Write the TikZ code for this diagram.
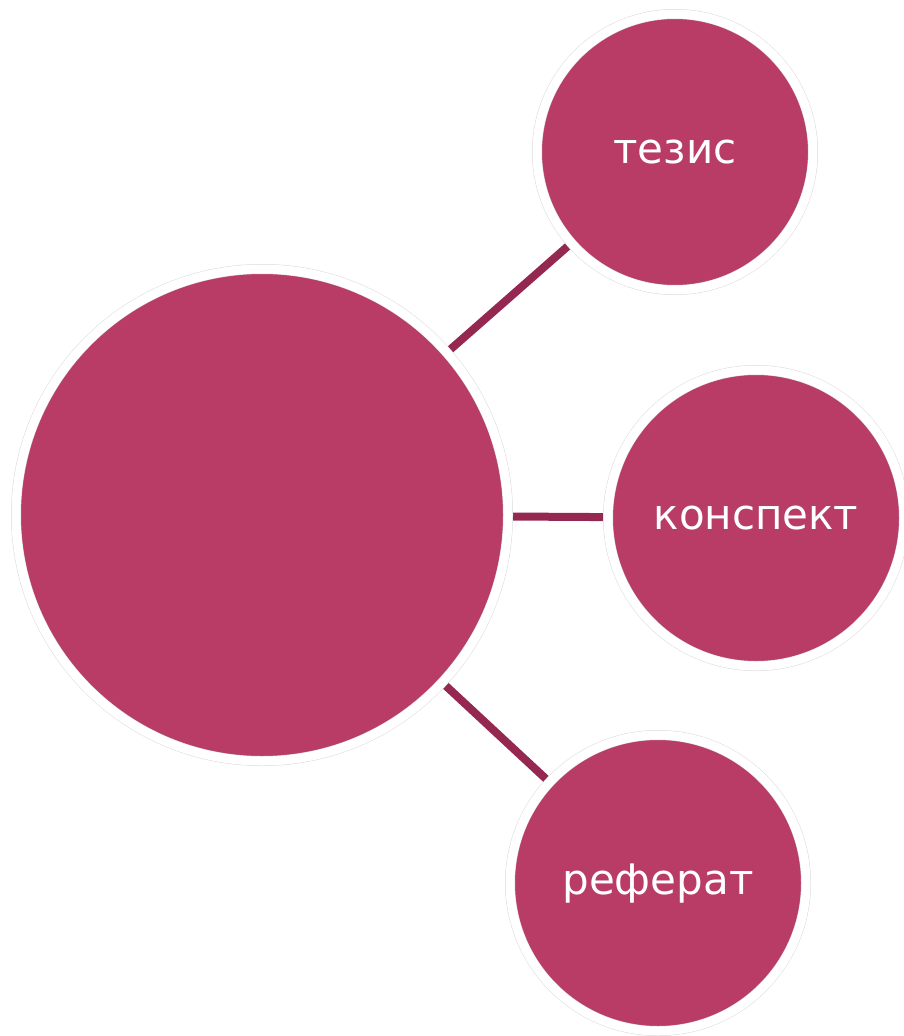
\documentclass[tikz,border=0pt]{standalone}
\usepackage{fontspec}
\setmainfont{DejaVu Sans}
\usetikzlibrary{backgrounds}

\definecolor{bubblefill}{RGB}{184,60,102}
\definecolor{linkcolor}{RGB}{148,40,80}
\definecolor{ringgrey}{RGB}{218,218,218}

\begin{document}
\begin{tikzpicture} [x=1pt, y=-1pt,
  bubble/.style={circle, fill=bubblefill, draw=ringgrey, double=white,
    double distance=9pt, line width=0.5pt, text=white,
    font=\fontsize{42}{50}\selectfont, text height=23pt, text depth=0pt},
  link/.style={draw=linkcolor, line width=8pt}]
\useasboundingbox (0, 0) rectangle (903, 1036);

\path (262, 515) node[bubble, minimum size=492pt] (v0) {}
      (675, 152) node[bubble, minimum size=276pt] (v1) {тезис}
      (756, 518) node[bubble, minimum size=296pt] (v2) {конспект}
      (658, 883) node[bubble, minimum size=296pt] (v3) {реферат};

\begin{scope}[on background layer]
\draw[link] (v0) -- (v1);
\draw[link] (v0) -- (v2);
\draw[link] (v0) -- (v3);
\end{scope}
\end{tikzpicture}
\end{document}
